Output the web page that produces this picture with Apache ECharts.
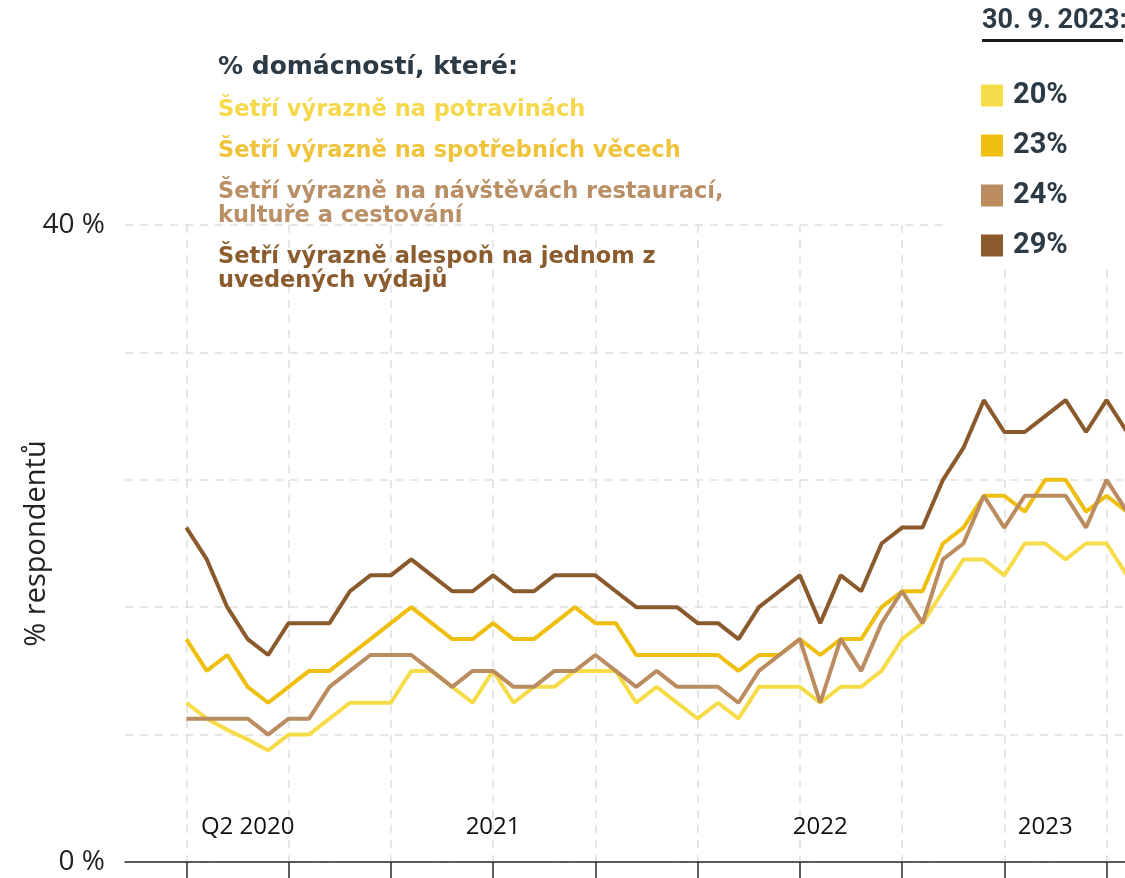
<!DOCTYPE html>
<html>
<head>
<meta charset="utf-8">
<script src="https://cdn.jsdelivr.net/npm/echarts@6/dist/echarts.min.js"></script>
<style>
  html, body { margin: 0; padding: 0; background: #fff; }
  #chart { width: 1125px; height: 878px; }
</style>
</head>
<body>
<div id="chart"></div>
<script>
// % of households saving heavily, one value per survey wave (index 45 = 30. 9. 2023)
const food = [10, 9, 8.3, 7.7, 7, 8, 8, 9, 10, 10, 10, 12, 12, 11, 10, 12, 10, 11, 11, 12, 12, 12, 10, 11, 10, 9, 10, 9, 11, 11, 11, 10, 11, 11, 12, 14, 15, 17, 19, 19, 18, 20, 20, 19, 20, 20, 18]
const goods = [14, 12, 13, 11, 10, 11, 12, 12, 13, 14, 15, 16, 15, 14, 14, 15, 14, 14, 15, 16, 15, 15, 13, 13, 13, 13, 13, 12, 13, 13, 14, 13, 14, 14, 16, 17, 17, 20, 21, 23, 23, 22, 24, 24, 22, 23, 22]
const leisure = [9, 9, 9, 9, 8, 9, 9, 11, 12, 13, 13, 13, 12, 11, 12, 12, 11, 11, 12, 12, 13, 12, 11, 12, 11, 11, 11, 10, 12, 13, 14, 10, 14, 12, 15, 17, 15, 19, 20, 23, 21, 23, 23, 23, 21, 24, 22]
const anyOf = [21, 19, 16, 14, 13, 15, 15, 15, 17, 18, 18, 19, 18, 17, 17, 18, 17, 17, 18, 18, 18, 17, 16, 16, 16, 15, 15, 14, 16, 17, 18, 15, 18, 17, 20, 21, 21, 24, 26, 29, 27, 27, 28, 29, 27, 29, 27]

const names = [
  'Šetří výrazně na potravinách',
  'Šetří výrazně na spotřebních věcech',
  'Šetří výrazně na návštěvách restaurací,\nkultuře a cestování',
  'Šetří výrazně alespoň na jednom z\nuvedených výdajů'
]
const colors = ['#f6dc48', '#efbf0f', '#bb8c5f', '#8b5a2c']
const textColors = ['#f5d84c', '#efc33c', '#b98f66', '#8b5c2e']

const xLabels = ['Q2 2020', '2021', '2022', '2023']
const xLabelSlot = [6, 18, 34, 45] // category slot of each label
const lead = 3 // empty slots before the first wave
const tickEvery = 5
const snapIdx = 45
const snapTitle = '30. 9. 2023:'

const all = [food, goods, leisure, anyOf]
const slots = Array.from({ length: lead + food.length }, (_, i) => {
  const k = xLabelSlot.indexOf(i)
  return k >= 0 ? xLabels[k] : ''
})
const pad = new Array(lead).fill('-')
const isTick = (i) => i >= lead && (i - lead) % tickEvery === 0

const dashed = { color: '#dedede', width: 1.5, type: [8, 7] }
const ink = '#2b3a44'
const wide = 'DejaVu Sans'

const myChart = echarts.init(document.getElementById('chart'))
myChart.setOption({
  animation: false,
  title: [
    {
      text: '% domácností, které:',
      left: 218,
      top: 55,
      padding: 0,
      textStyle: { fontFamily: wide, fontWeight: 'bold', fontSize: 25, color: ink }
    },
    {
      text: snapTitle,
      left: 982,
      top: 8,
      padding: 0,
      textStyle: { fontFamily: 'Roboto', fontWeight: 'bold', fontSize: 27, color: ink }
    }
  ],
  legend: [
    {
      orient: 'vertical',
      left: 213,
      top: 98,
      padding: 0,
      icon: 'rect',
      itemWidth: 0,
      itemHeight: 0,
      itemGap: 17,
      selectedMode: false,
      textStyle: { fontFamily: wide, fontWeight: 'bold', fontSize: 22.5, lineHeight: 24 },
      data: names.map((n, i) => ({ name: n, textStyle: { color: textColors[i] } }))
    },
    {
      orient: 'vertical',
      left: 981,
      top: 81,
      padding: 0,
      icon: 'rect',
      itemWidth: 22,
      itemHeight: 22,
      itemGap: 21,
      selectedMode: false,
      data: names,
      formatter: (name) => all[names.indexOf(name)][snapIdx] + '%',
      textStyle: { fontFamily: 'Roboto', fontWeight: 'bold', fontSize: 29, lineHeight: 29, color: ink, padding: [0, 0, 0, 5] }
    }
  ],
  graphic: [
    // white box behind the snapshot values
    { type: 'rect', left: 948, top: 0, z: 1, shape: { width: 177, height: 270 }, style: { fill: '#fff' } },
    { type: 'rect', left: 982, top: 39, z: 5, shape: { width: 141, height: 3 }, style: { fill: '#1a1a1a' } }
  ],
  grid: { left: 125, top: 225, width: 1002, height: 637, outerBoundsMode: 'none' },
  xAxis: {
    type: 'category',
    boundaryGap: false,
    data: slots,
    axisLine: { lineStyle: { color: '#2a2a2a', width: 1.5 } },
    axisTick: { show: true, length: 16, interval: (i) => isTick(i), lineStyle: { color: '#2a2a2a', width: 1.5 } },
    splitLine: { show: true, interval: (i) => isTick(i), lineStyle: dashed },
    axisLabel: {
      interval: 0,
      margin: -47,
      fontFamily: 'Open Sans',
      fontSize: 24,
      color: '#111'
    }
  },
  yAxis: {
    type: 'value',
    min: 0,
    max: 40,
    interval: 8,
    name: '% respondentů',
    nameLocation: 'middle',
    nameGap: 74,
    nameRotate: 90,
    nameMoveOverlap: false,
    nameTextStyle: { fontFamily: 'Open Sans', fontSize: 29, color: '#222' },
    axisLine: { show: false },
    axisTick: { show: false },
    splitLine: { lineStyle: dashed },
    axisLabel: {
      margin: 20,
      fontFamily: 'Open Sans',
      fontSize: 28,
      color: '#222',
      formatter: (v) => (v === 0 || v === 40 ? v + ' %' : '')
    }
  },
  series: all.map((arr, i) => ({
    name: names[i],
    type: 'line',
    data: pad.concat(arr),
    symbol: 'none',
    z: 2 + i,
    color: colors[i],
    lineStyle: { width: 4, color: colors[i] },
    emphasis: { disabled: true }
  }))
})
</script>
</body>
</html>
